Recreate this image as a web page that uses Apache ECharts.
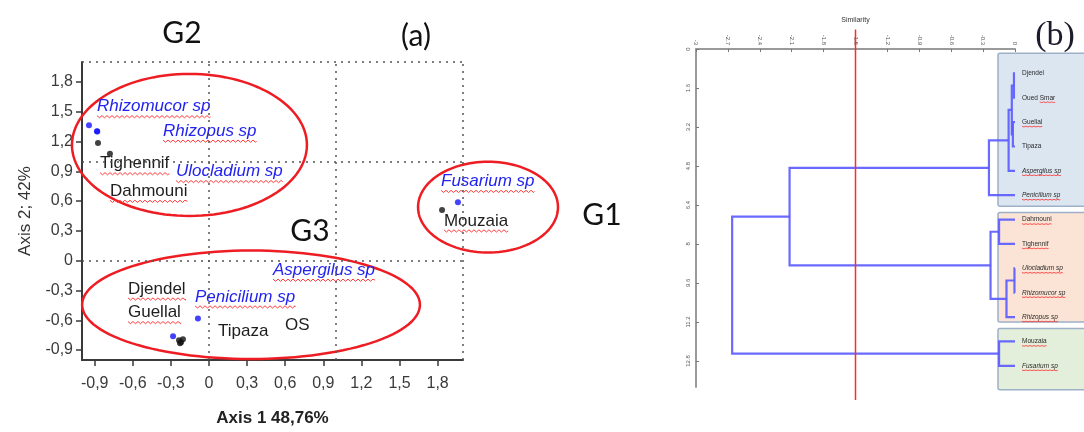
<!DOCTYPE html>
<html>
<head>
<meta charset="utf-8">
<script src="https://cdn.jsdelivr.net/npm/echarts@6/dist/echarts.min.js"></script>
<style>
html, body { margin: 0; padding: 0; background: #fff; }
#main { width: 1084px; height: 432px; }
</style>
</head>
<body>
<div id="main"></div>
<script>
// (a) factor map: fungal species (blue) and sites (black)
var speciesNames = ['Rhizomucor sp', 'Rhizopus sp', 'Ulocladium sp', 'Aspergilus sp', 'Penicilium sp', 'Fusarium sp'];
var speciesX = [-0.945, -0.882, -0.88, -0.283, -0.087, 1.96];
var speciesY = [1.364, 1.304, 1.30, -0.762, -0.583, 0.589];
var siteNames = ['Tighennif', 'Dahmouni', 'Djendel', 'Guellal', 'Tipaza', 'OS', 'Mouzaia'];
var siteX = [-0.874, -0.78, -0.236, -0.22, -0.205, -0.228, 1.835];
var siteY = [1.185, 1.076, -0.802, -0.822, -0.792, -0.832, 0.51];

// where the names are written on the map
var tagText = ['Rhizomucor sp', 'Rhizopus sp', 'Tighennif', 'Ulocladium sp', 'Dahmouni', 'Fusarium sp', 'Mouzaia',
  'Aspergilus sp', 'Djendel', 'Penicilium sp', 'Guellal', 'Tipaza', 'OS'];
var tagX = [-0.882, -0.362, -0.858, -0.26, -0.78, 1.827, 1.85, 0.504, -0.638, -0.11, -0.638, 0.071, 0.598];
var tagY = [1.55, 1.304, 0.976, 0.897, 0.698, 0.798, 0.40, -0.096, -0.285, -0.365, -0.523, -0.712, -0.653];
var tagWavy = [true, true, true, true, true, true, true, true, true, true, true, false, false];

// groups circled on the map
var groupNames = ['G1', 'G2', 'G3'];
var groupCx = [2.197, -0.154, 0.331];
var groupCy = [0.539, 1.165, -0.444];
var groupRx = [0.551, 0.925, 1.33];
var groupRy = [0.457, 0.715, 0.546];

var axisTicks = [-0.9, -0.6, -0.3, 0, 0.3, 0.6, 0.9, 1.2, 1.5, 1.8];
var guideX = [0, 1, 2];
var guideY = [0, 1, 2];

// (b) dendrogram
var leafNames = ['Djendel', 'Oued Smar', 'Guellal', 'Tipaza', 'Aspergilus sp', 'Penicilium sp', 'Dahmouni', 'Tighennif',
  'Ulocladium sp', 'Rhizomucor sp', 'Rhizopus sp', 'Mouzaia', 'Fusarium sp'];
var leafWavy = ['', 'Smar', 'Guellal', '', 'Aspergilus sp', 'Penicilium sp', 'Dahmouni', 'Tighennif',
  'Ulocladium sp', 'Rhizomucor sp', 'Rhizopus sp', 'Mouzaia', 'Fusarium sp'];
var mergeA = [0, 2, 13, 15, 16, 6, 8, 19, 18, 17, 11, 22];
var mergeB = [1, 3, 14, 4, 5, 7, 9, 10, 20, 21, 12, 23];
var mergeSim = [-0.01, -0.02, -0.03, -0.06, -0.245, -0.15, -0.005, -0.08, -0.23, -2.12, -0.15, -2.66];
var cutSimilarity = -1.5;
var simTicks = [-3, -2.7, -2.4, -2.1, -1.8, -1.5, -1.2, -0.9, -0.6, -0.3, 0];
var heightTicks = [0, 1.6, 3.2, 4.8, 6.4, 8, 9.6, 11.2, 12.8];
var boxFirst = [1, 7, 12];
var boxLast = [6, 11, 13];
var boxFill = ['#dce6f1', '#fbe3d5', '#e3efda'];
var boxPad = [[20, 11], [7, 5], [13, 24]];

var sans = '"Liberation Sans", Arial, sans-serif';
var measureCtx = document.createElement('canvas').getContext('2d');
function textWidth(text, font) {
	measureCtx.font = font;
	return measureCtx.measureText(text).width;
}
function wavy(x0, x1, y, amp, step) {
	var pts = [], up = true;
	for (var x = x0; x < x1; x += step) {
		pts.push([x, y + (up ? -amp : amp)]);
		up = !up;
	}
	pts.push([x1, y]);
	return pts;
}
function comma(v) {
	return String(Math.round(v * 10) / 10).replace('.', ',');
}

// dendrogram node positions: leaves at 1..n, inner nodes at mid of children
var nodeY = leafNames.map(function(n, i) { return i + 1; });
var nodeSim = leafNames.map(function() { return 0; });
var branchData = [];
for (var k = 0; k < mergeA.length; k++) {
	var a = mergeA[k], b = mergeB[k];
	branchData.push([nodeSim[a], nodeY[a], mergeSim[k], nodeSim[b], nodeY[b]]);
	nodeY.push((nodeY[a] + nodeY[b]) / 2);
	nodeSim.push(mergeSim[k]);
}

function renderTag(params, api) {
	var i = params.dataIndex;
	var p = api.coord([api.value(0), api.value(1)]);
	var text = tagText[i];
	var isSp = speciesNames.indexOf(text) >= 0;
	var font = (isSp ? 'italic ' : '') + '17px ' + sans;
	var children = [{
		type: 'text', x: p[0], y: p[1],
		style: { text: text, font: font, fill: isSp ? '#2323f0' : '#1e1e1e',
			textAlign: 'left', textVerticalAlign: 'middle', align: 'left', verticalAlign: 'middle' }
	}];
	if (tagWavy[i]) {
		children.push({
			type: 'polyline',
			shape: { points: wavy(p[0], p[0] + textWidth(text, font), p[1] + 10, 1.1, 2.5) },
			style: { stroke: '#ff3b3b', lineWidth: 1, fill: 'none' }
		});
	}
	return { type: 'group', children: children };
}

function renderLeaf(params, api) {
	var i = params.dataIndex;
	var p = api.coord([0, api.value(1)]);
	var text = leafNames[i];
	var isSp = / sp$/.test(text);
	var font = (isSp ? 'italic ' : '') + '6.5px ' + sans;
	var x = p[0] + 7;
	var children = [{
		type: 'text', x: x, y: p[1],
		style: { text: text, font: font, fill: '#2a2a2a',
			textAlign: 'left', textVerticalAlign: 'middle', align: 'left', verticalAlign: 'middle' }
	}];
	var part = leafWavy[i];
	if (part) {
		var start = x + textWidth(text.slice(0, text.indexOf(part)), font);
		children.push({
			type: 'polyline',
			shape: { points: wavy(start, start + textWidth(part, font), p[1] + 4.5, 0.4, 2) },
			style: { stroke: '#ff3030', lineWidth: 0.8, fill: 'none' }
		});
	}
	return { type: 'group', children: children };
}

function renderEllipse(params, api) {
	var cx = api.value(0), cy = api.value(1), rx = api.value(2), ry = api.value(3);
	var pts = [];
	for (var t = 0; t < 120; t++) {
		var ang = t / 120 * Math.PI * 2;
		pts.push(api.coord([cx + rx * Math.cos(ang), cy + ry * Math.sin(ang)]));
	}
	return { type: 'polygon', shape: { points: pts }, style: { stroke: '#ee1d23', lineWidth: 2.5, fill: 'none' } };
}

function renderBranch(params, api) {
	var p1 = api.coord([api.value(0), api.value(1)]);
	var p2 = api.coord([api.value(2), api.value(1)]);
	var p3 = api.coord([api.value(2), api.value(4)]);
	var p4 = api.coord([api.value(3), api.value(4)]);
	return { type: 'polyline', shape: { points: [p1, p2, p3, p4] },
		style: { stroke: '#5a5aff', lineWidth: 2.2, fill: 'none', opacity: 0.9 } };
}

function renderBox(params, api) {
	var i = params.dataIndex;
	var top = api.coord([0, api.value(1)]);
	var bot = api.coord([0, api.value(2)]);
	var x0 = top[0] - 17;
	var y0 = top[1] - boxPad[i][0];
	return { type: 'rect',
		shape: { x: x0, y: y0, width: api.getWidth() - x0 + 6, height: bot[1] + boxPad[i][1] - y0, r: 2 },
		style: { fill: boxFill[i], stroke: '#9db1c8', lineWidth: 1.5 } };
}

var chart = echarts.init(document.getElementById('main'));
var option = {
	animation: false,
	grid: [
		{ left: 82, top: 62, width: 381, height: 302 },
		{ left: 696, top: 49, width: 319, height: 338 }
	],
	xAxis: [{
		gridIndex: 0, type: 'value', min: -1, max: 2,
		name: 'Axis 1 48,76%', nameLocation: 'middle', nameGap: 50,
		nameTextStyle: { fontFamily: sans, fontSize: 17, fontWeight: 'bold', color: '#222' },
		axisLine: { onZero: false, lineStyle: { color: '#3a3a3a', width: 2 } },
		axisTick: { customValues: axisTicks, length: 6, lineStyle: { color: '#3a3a3a', width: 1.5 } },
		axisLabel: { customValues: axisTicks, formatter: comma, margin: 16, fontFamily: sans, fontSize: 16, color: '#3a3a3a' },
		splitLine: { show: false }
	}, {
		gridIndex: 1, type: 'value', position: 'top', min: -3, max: 0,
		name: 'Similarity', nameLocation: 'middle', nameGap: 25,
		nameTextStyle: { fontFamily: sans, fontSize: 7, color: '#333' },
		axisLine: { onZero: false, lineStyle: { color: '#9a9a9a', width: 2 } },
		axisTick: { customValues: simTicks, inside: true, length: 3, lineStyle: { color: '#777' } },
		axisLabel: { customValues: simTicks, rotate: 90, margin: 4, fontFamily: sans, fontSize: 6, color: '#555',
			formatter: function(v) { return String(Math.round(v * 10) / 10); } },
		splitLine: { show: false }
	}],
	yAxis: [{
		gridIndex: 0, type: 'value', min: -1, max: 2,
		name: 'Axis 2; 42%', nameLocation: 'middle', nameGap: 48,
		nameTextStyle: { fontFamily: sans, fontSize: 17, color: '#333' },
		axisLine: { onZero: false, lineStyle: { color: '#3a3a3a', width: 2 } },
		axisTick: { customValues: axisTicks, length: 6, lineStyle: { color: '#3a3a3a', width: 1.5 } },
		axisLabel: { customValues: axisTicks, formatter: comma, margin: 9, fontFamily: sans, fontSize: 16, color: '#3a3a3a' },
		splitLine: { show: false }
	}, {
		gridIndex: 1, type: 'value', inverse: true, min: 0, max: 13.87,
		axisLine: { onZero: false, lineStyle: { color: '#9a9a9a', width: 2 } },
		axisTick: { customValues: heightTicks, inside: true, length: 3, lineStyle: { color: '#777' } },
		axisLabel: { customValues: heightTicks, rotate: 90, margin: 5, fontFamily: sans, fontSize: 6, color: '#555',
			formatter: function(v) { return String(Math.round(v * 10) / 10); } },
		splitLine: { show: false }
	}],
	graphic: [
		{ type: 'text', x: 182, y: 33, style: { text: 'G2', font: '30px Lato, sans-serif', fill: '#111',
			textAlign: 'center', textVerticalAlign: 'middle', align: 'center', verticalAlign: 'middle' } },
		{ type: 'text', x: 416, y: 36, style: { text: '(a)', font: '30px Lato, sans-serif', fill: '#111',
			textAlign: 'center', textVerticalAlign: 'middle', align: 'center', verticalAlign: 'middle' } },
		{ type: 'text', x: 310, y: 231, style: { text: 'G3', font: '30px Lato, sans-serif', fill: '#111',
			textAlign: 'center', textVerticalAlign: 'middle', align: 'center', verticalAlign: 'middle' } },
		{ type: 'text', x: 602, y: 215, style: { text: 'G1', font: '30px Lato, sans-serif', fill: '#111',
			textAlign: 'center', textVerticalAlign: 'middle', align: 'center', verticalAlign: 'middle' } },
		{ type: 'text', x: 1055, y: 36, style: { text: '(b)', font: '34px "Liberation Serif", serif', fill: '#1b1b2b',
			textAlign: 'center', textVerticalAlign: 'middle', align: 'center', verticalAlign: 'middle' } }
	],
	series: [{
		type: 'custom', name: 'groups', xAxisIndex: 0, yAxisIndex: 0, z: 2, silent: true,
		renderItem: renderEllipse, encode: { x: 0, y: 1 },
		data: groupNames.map(function(g, i) { return [groupCx[i], groupCy[i], groupRx[i], groupRy[i]]; })
	}, {
		type: 'scatter', name: 'species', xAxisIndex: 0, yAxisIndex: 0, z: 3,
		symbolSize: 6, itemStyle: { color: '#1414ff' },
		data: speciesNames.map(function(n, i) { return [speciesX[i], speciesY[i]]; }),
		markLine: {
			silent: true, symbol: 'none', label: { show: false },
			lineStyle: { color: '#555', type: [2, 5], width: 1.5 },
			data: guideX.map(function(v) { return { xAxis: v }; }).concat(guideY.map(function(v) { return { yAxis: v }; }))
		}
	}, {
		type: 'scatter', name: 'sites', xAxisIndex: 0, yAxisIndex: 0, z: 3,
		symbolSize: 6, itemStyle: { color: '#111' },
		data: siteNames.map(function(n, i) { return [siteX[i], siteY[i]]; })
	}, {
		type: 'custom', name: 'tags', xAxisIndex: 0, yAxisIndex: 0, z: 4, silent: true,
		renderItem: renderTag, encode: { x: 0, y: 1 },
		data: tagText.map(function(t, i) { return [tagX[i], tagY[i]]; })
	}, {
		type: 'custom', name: 'boxes', xAxisIndex: 1, yAxisIndex: 1, z: 1, silent: true,
		renderItem: renderBox, encode: { x: 0, y: [1, 2] },
		data: boxFirst.map(function(f, i) { return [0, f, boxLast[i]]; })
	}, {
		type: 'custom', name: 'branches', xAxisIndex: 1, yAxisIndex: 1, z: 3, silent: true,
		renderItem: renderBranch, encode: { x: [0, 2, 3], y: [1, 4] },
		data: branchData
	}, {
		type: 'line', name: 'cut', xAxisIndex: 1, yAxisIndex: 1, z: 4, silent: true, clip: false,
		symbol: 'none', lineStyle: { color: '#ff2a2a', width: 1.5 },
		data: [[cutSimilarity, -0.8], [cutSimilarity, 14.4]]
	}, {
		type: 'custom', name: 'leaves', xAxisIndex: 1, yAxisIndex: 1, z: 5, silent: true,
		renderItem: renderLeaf, encode: { x: 0, y: 1 },
		data: leafNames.map(function(n, i) { return [0, nodeY[i]]; })
	}]
};
chart.setOption(option);
</script>
</body>
</html>
